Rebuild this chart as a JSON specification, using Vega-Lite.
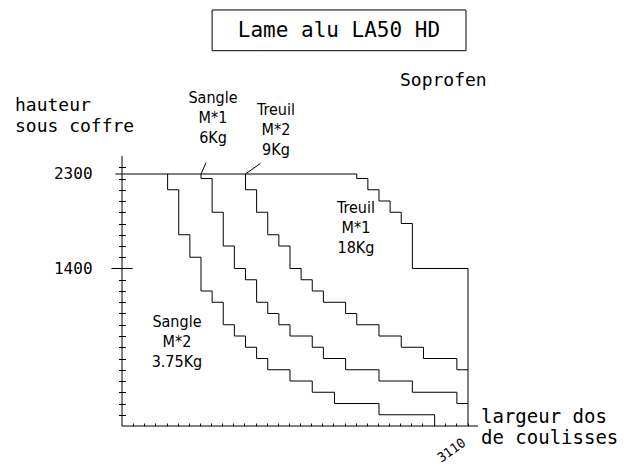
{
  "$schema": "https://vega.github.io/schema/vega-lite/v6.json",
  "width": 356,
  "height": 270,
  "autosize": {"type": "none"},
  "padding": {"left": 122, "top": 156, "right": 150, "bottom": 43},
  "background": "white",
  "config": {"view": {"stroke": null}},
  "datasets": {
    "curves": [
      {"c": "Sangle M*2", "i": 0, "x": 410, "y": 2240},
      {"c": "Sangle M*2", "i": 1, "x": 510, "y": 2100},
      {"c": "Sangle M*2", "i": 2, "x": 610, "y": 1700},
      {"c": "Sangle M*2", "i": 3, "x": 710, "y": 1500},
      {"c": "Sangle M*2", "i": 4, "x": 810, "y": 1200},
      {"c": "Sangle M*2", "i": 5, "x": 910, "y": 1100},
      {"c": "Sangle M*2", "i": 6, "x": 1010, "y": 900},
      {"c": "Sangle M*2", "i": 7, "x": 1110, "y": 800},
      {"c": "Sangle M*2", "i": 8, "x": 1210, "y": 700},
      {"c": "Sangle M*2", "i": 9, "x": 1310, "y": 600},
      {"c": "Sangle M*2", "i": 10, "x": 1510, "y": 500},
      {"c": "Sangle M*2", "i": 11, "x": 1710, "y": 400},
      {"c": "Sangle M*2", "i": 12, "x": 1910, "y": 300},
      {"c": "Sangle M*2", "i": 13, "x": 2310, "y": 200},
      {"c": "Sangle M*2", "i": 14, "x": 2810, "y": 100},
      {"c": "Sangle M*2", "i": 15, "x": 2810, "y": 0},
      {"c": "Sangle M*1", "i": 0, "x": 710, "y": 2240},
      {"c": "Sangle M*1", "i": 1, "x": 810, "y": 2200},
      {"c": "Sangle M*1", "i": 2, "x": 910, "y": 1900},
      {"c": "Sangle M*1", "i": 3, "x": 1010, "y": 1600},
      {"c": "Sangle M*1", "i": 4, "x": 1110, "y": 1400},
      {"c": "Sangle M*1", "i": 5, "x": 1210, "y": 1300},
      {"c": "Sangle M*1", "i": 6, "x": 1310, "y": 1100},
      {"c": "Sangle M*1", "i": 7, "x": 1410, "y": 1000},
      {"c": "Sangle M*1", "i": 8, "x": 1510, "y": 900},
      {"c": "Sangle M*1", "i": 9, "x": 1710, "y": 800},
      {"c": "Sangle M*1", "i": 10, "x": 1810, "y": 700},
      {"c": "Sangle M*1", "i": 11, "x": 2010, "y": 600},
      {"c": "Sangle M*1", "i": 12, "x": 2310, "y": 500},
      {"c": "Sangle M*1", "i": 13, "x": 2610, "y": 400},
      {"c": "Sangle M*1", "i": 14, "x": 3010, "y": 300},
      {"c": "Sangle M*1", "i": 15, "x": 3110, "y": 200},
      {"c": "Treuil M*2", "i": 0, "x": 1110, "y": 2240},
      {"c": "Treuil M*2", "i": 1, "x": 1210, "y": 2100},
      {"c": "Treuil M*2", "i": 2, "x": 1310, "y": 1900},
      {"c": "Treuil M*2", "i": 3, "x": 1410, "y": 1700},
      {"c": "Treuil M*2", "i": 4, "x": 1510, "y": 1600},
      {"c": "Treuil M*2", "i": 5, "x": 1610, "y": 1400},
      {"c": "Treuil M*2", "i": 6, "x": 1710, "y": 1300},
      {"c": "Treuil M*2", "i": 7, "x": 1810, "y": 1200},
      {"c": "Treuil M*2", "i": 8, "x": 2010, "y": 1100},
      {"c": "Treuil M*2", "i": 9, "x": 2110, "y": 1000},
      {"c": "Treuil M*2", "i": 10, "x": 2310, "y": 900},
      {"c": "Treuil M*2", "i": 11, "x": 2510, "y": 800},
      {"c": "Treuil M*2", "i": 12, "x": 2710, "y": 700},
      {"c": "Treuil M*2", "i": 13, "x": 3010, "y": 600},
      {"c": "Treuil M*2", "i": 14, "x": 3110, "y": 500},
      {"c": "Treuil M*1", "i": 0, "x": -60, "y": 2240},
      {"c": "Treuil M*1", "i": 1, "x": 2110, "y": 2240},
      {"c": "Treuil M*1", "i": 2, "x": 2210, "y": 2200},
      {"c": "Treuil M*1", "i": 3, "x": 2310, "y": 2100},
      {"c": "Treuil M*1", "i": 4, "x": 2410, "y": 2000},
      {"c": "Treuil M*1", "i": 5, "x": 2510, "y": 1900},
      {"c": "Treuil M*1", "i": 6, "x": 2610, "y": 1800},
      {"c": "Treuil M*1", "i": 7, "x": 3110, "y": 1400},
      {"c": "Treuil M*1", "i": 8, "x": 3110, "y": 0}
    ],
    "rules": [
      {"k": "y axis", "x": 0, "y": 0, "x2": 0, "y2": 2400},
      {"k": "x axis", "x": 0, "y": 0, "x2": 3200, "y2": 0},
      {"k": "tick 1400", "x": -95, "y": 1400, "x2": 95, "y2": 1400},
      {"k": "leader Sangle M*1", "x": 755, "y": 2340, "x2": 710, "y2": 2240},
      {"k": "leader Treuil M*2", "x": 1245, "y": 2335, "x2": 1110, "y2": 2240}
    ],
    "box": [
      {"x": 810, "y": 3336, "x2": 3092, "y2": 3698}
    ],
    "title": [
      {"x": 1950, "y": 3455, "t": "Lame alu LA50 HD"}
    ],
    "notes": [
      {"x": -962, "y": 2796, "t": "hauteur\nsous coffre"},
      {"x": 2499, "y": 3022, "t": "Soprofen"}
    ],
    "xnote": [
      {"x": 3227, "y": 24, "t": "largeur dos\nde coulisses"}
    ],
    "ylabels": [
      {"x": -265, "y": 2240, "t": "2300"},
      {"x": -265, "y": 1400, "t": "1400"}
    ],
    "curvelabels": [
      {"x": 818, "y": 2874, "t": "Sangle\nM*1\n6Kg"},
      {"x": 1384, "y": 2764, "t": "Treuil\nM*2\n9Kg"},
      {"x": 2103, "y": 1891, "t": "Treuil\nM*1\n18Kg"},
      {"x": 494, "y": 883, "t": "Sangle\nM*2\n3.75Kg"}
    ]
  },
  "encoding": {
    "x": {
      "field": "x", "type": "quantitative",
      "scale": {"domain": [0, 3200], "nice": false, "zero": false},
      "axis": {
        "orient": "bottom", "title": null, "domain": false, "grid": false,
        "values": [100, 200, 300, 400, 500, 600, 700, 800, 900, 1000, 1100, 1200, 1300, 1400, 1500, 1600, 1700, 1800, 1900, 2000, 2100, 2200, 2300, 2400, 2500, 2600, 2700, 2800, 2900, 3000, 3110],
        "tickSize": 3, "offset": -3, "tickColor": "black", "tickWidth": 1,
        "labelExpr": "datum.value == 3110 ? '3110' : ''",
        "labelAngle": -35, "labelAlign": "right", "labelBaseline": "middle",
        "labelFont": "DejaVu Sans Mono", "labelFontSize": 13, "labelColor": "black",
        "labelPadding": 15, "labelOffset": -4,
        "labelOverlap": false, "labelBound": false, "labelFlush": false
      }
    },
    "y": {
      "field": "y", "type": "quantitative",
      "scale": {"domain": [0, 2400], "nice": false, "zero": false},
      "axis": {
        "orient": "left", "title": null, "domain": false, "grid": false,
        "values": [100, 200, 300, 400, 500, 600, 700, 800, 900, 1000, 1100, 1200, 1300, 1400, 1500, 1600, 1700, 1800, 1900, 2000, 2100, 2200, 2300],
        "tickSize": 7, "offset": -3.5, "tickColor": "black", "tickWidth": 1,
        "labels": false
      }
    }
  },
  "layer": [
    {
      "data": {"name": "rules"},
      "mark": {"type": "rule", "color": "black", "strokeWidth": 1},
      "encoding": {"x2": {"field": "x2"}, "y2": {"field": "y2"}}
    },
    {
      "data": {"name": "curves"},
      "mark": {"type": "line", "interpolate": "step-before", "color": "black", "strokeWidth": 1},
      "encoding": {"detail": {"field": "c"}, "order": {"field": "i", "type": "quantitative"}}
    },
    {
      "data": {"name": "box"},
      "mark": {"type": "rect", "fill": "transparent", "stroke": "black", "strokeWidth": 1},
      "encoding": {"x2": {"field": "x2"}, "y2": {"field": "y2"}}
    },
    {
      "data": {"name": "title"},
      "mark": {"type": "text", "font": "DejaVu Sans Mono", "fontSize": 21, "align": "center", "baseline": "alphabetic", "color": "black"},
      "encoding": {"text": {"field": "t"}}
    },
    {
      "data": {"name": "notes"},
      "mark": {"type": "text", "font": "DejaVu Sans Mono", "fontSize": 18, "align": "left", "baseline": "alphabetic", "lineBreak": "\n", "lineHeight": 21, "color": "black"},
      "encoding": {"text": {"field": "t"}}
    },
    {
      "data": {"name": "xnote"},
      "mark": {"type": "text", "font": "DejaVu Sans Mono", "fontSize": 19, "align": "left", "baseline": "alphabetic", "lineBreak": "\n", "lineHeight": 21, "color": "black"},
      "encoding": {"text": {"field": "t"}}
    },
    {
      "data": {"name": "ylabels"},
      "mark": {"type": "text", "font": "DejaVu Sans Mono", "fontSize": 16, "align": "right", "baseline": "middle", "color": "black"},
      "encoding": {"text": {"field": "t"}}
    },
    {
      "data": {"name": "curvelabels"},
      "mark": {"type": "text", "font": "Liberation Sans Narrow, DejaVu Sans Condensed, Roboto Condensed, Liberation Sans, sans-serif", "fontSize": 16, "align": "center", "baseline": "alphabetic", "lineBreak": "\n", "lineHeight": 20, "color": "black"},
      "encoding": {"text": {"field": "t"}}
    }
  ]
}
